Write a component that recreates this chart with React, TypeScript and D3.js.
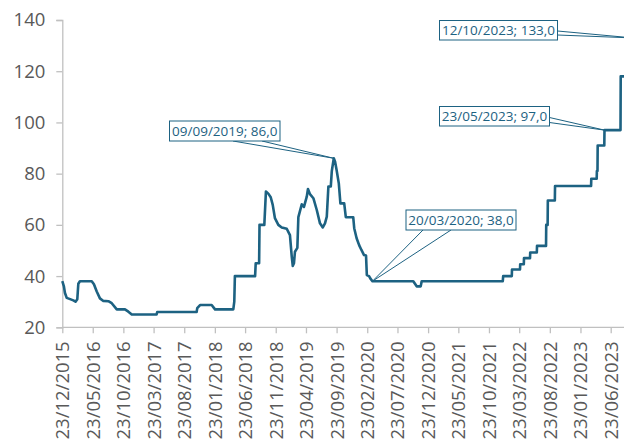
import React from 'react';
import { select, scaleLinear, scaleTime, line, axisLeft, axisBottom, timeParse, timeFormat } from 'd3';

// data
const pointDates = [
  '2015-12-23', '2015-12-31', '2016-01-05', '2016-01-14', '2016-01-31', '2016-02-16', '2016-02-27', '2016-03-07',
  '2016-03-12', '2016-03-20', '2016-05-18', '2016-05-29', '2016-06-12', '2016-06-28', '2016-07-15', '2016-08-09',
  '2016-08-26', '2016-09-20', '2016-10-31', '2016-11-17', '2016-12-04', '2017-04-07', '2017-04-10', '2017-10-24',
  '2017-10-27', '2017-11-10', '2018-01-07', '2018-01-19', '2018-01-24', '2018-04-25', '2018-04-30', '2018-05-03',
  '2018-08-12', '2018-08-15', '2018-09-01', '2018-09-03', '2018-09-27', '2018-10-05', '2018-10-17', '2018-10-29',
  '2018-11-08', '2018-11-19', '2018-12-06', '2018-12-23', '2019-01-17', '2019-02-02', '2019-02-11', '2019-02-16',
  '2019-02-22', '2019-02-27', '2019-03-11', '2019-03-16', '2019-04-02', '2019-04-13', '2019-04-27', '2019-05-03',
  '2019-05-13', '2019-05-30', '2019-06-16', '2019-07-02', '2019-07-16', '2019-07-27', '2019-08-05', '2019-08-13',
  '2019-08-25', '2019-08-30', '2019-09-09', '2019-09-15', '2019-09-23', '2019-10-04', '2019-10-12', '2019-10-31',
  '2019-11-08', '2019-12-15', '2019-12-20', '2020-01-01', '2020-01-14', '2020-01-25', '2020-02-07', '2020-02-17',
  '2020-02-21', '2020-03-03', '2020-03-10', '2020-03-20', '2020-10-10', '2020-10-27', '2020-11-16', '2020-11-21',
  '2021-12-31', '2022-01-02', '2022-02-14', '2022-02-15', '2022-03-27', '2022-03-28', '2022-04-15', '2022-04-16',
  '2022-05-16', '2022-05-17', '2022-06-19', '2022-06-20', '2022-08-04', '2022-08-05', '2022-08-12', '2022-08-13',
  '2022-09-17', '2022-09-18', '2023-03-17', '2023-03-18', '2023-04-14', '2023-04-15', '2023-04-18', '2023-04-19',
  '2023-05-22', '2023-05-23', '2023-08-11', '2023-08-12', '2023-10-11', '2023-10-12',
];
const pointValues = [
  38, 36, 33.5, 31.5, 31, 30.5, 30, 31,
  37, 38, 38, 36.8, 34, 31.3, 30.3, 30.2,
  29.4, 27, 27, 26.1, 25, 25, 26, 26,
  27.5, 28.7, 28.7, 27.5, 27, 27, 30, 40,
  40, 45, 45, 60, 60, 73, 72.2, 70.8,
  67.8, 62.6, 60, 59, 58.5, 56, 47.6, 44,
  45, 49.5, 51, 63, 68, 67, 71, 74,
  72, 70.4, 65.8, 60.6, 59, 60.6, 63.2, 75,
  75, 81, 86, 84.8, 81.4, 76.2, 68.4, 68.4,
  63, 63, 58.7, 54.8, 52, 50.2, 48.2, 48,
  40.4, 40, 39, 38, 38, 36, 36, 38,
  38, 40, 40, 42.6, 42.6, 44.6, 44.6, 47,
  47, 49.2, 49.2, 51.8, 51.8, 60, 60, 69.5,
  69.5, 75.2, 75.2, 78, 78, 81, 81, 91,
  91, 97, 97, 118, 118, 133,
];

const xTickDates = [
  '2015-12-23', '2016-05-23', '2016-10-23', '2017-03-23', '2017-08-23', '2018-01-23', '2018-06-23',
  '2018-11-23', '2019-04-23', '2019-09-23', '2020-02-23', '2020-07-23', '2020-12-23', '2021-05-23',
  '2021-10-23', '2022-03-23', '2022-08-23', '2023-01-23', '2023-06-23',
];
const yTicks = [20, 40, 60, 80, 100, 120, 140];

const noteDates = ['2019-09-09', '2020-03-20', '2023-05-23', '2023-10-12'];
const noteValues = [86, 38, 97, 133];

// box layout for each callout: box rect + two base points of the pointer
const noteLayout = [
  { x: 169.5, y: 121, w: 110.5, h: 20, b1: [233, 141], b2: [262, 141] },
  { x: 406, y: 210, w: 110, h: 20, b1: [423, 230], b2: [451, 230] },
  { x: 439.5, y: 106.5, w: 110, h: 19.5, b1: [549.5, 117.5], b2: [549.5, 122.5] },
  { x: 439.5, y: 20.5, w: 118, h: 19.5, b1: [557.5, 31], b2: [557.5, 35] },
];

const dims = {
  width: 624,
  height: 441,
  left: 62.3,
  lastTickX: 610.7,
  top: 20,
  bottom: 327.3,
};

const LINE_COLOR = '#1d6282';
const AXIS_COLOR = '#c0c0c0';
const TEXT_COLOR = '#595959';
const FONT = '"Open Sans", sans-serif';

const parse = timeParse('%Y-%m-%d');
const fmt = timeFormat('%d/%m/%Y');

interface Pt {
  date: Date;
  value: number;
}

const App: React.FC = () => {
  const svgRef = React.useRef<SVGSVGElement>(null);

  const data: Pt[] = pointDates.map((d, i) => ({ date: parse(d) as Date, value: pointValues[i] }));
  const tickDates = xTickDates.map(d => parse(d) as Date);

  const x = scaleTime()
    .domain([tickDates[0], tickDates[tickDates.length - 1]])
    .range([dims.left, dims.lastTickX]);
  const y = scaleLinear().domain([20, 140]).range([dims.bottom, dims.top]);

  React.useEffect(() => {
    const svg = select(svgRef.current);
    svg.selectAll('*').remove();

    const defs = svg.append('defs');
    defs.append('clipPath').attr('id', 'plotclip')
      .append('rect').attr('x', 0).attr('y', 0).attr('width', dims.width).attr('height', dims.height);

    // y axis
    const yAxis = axisLeft(y).tickValues(yTicks).tickSize(6).tickPadding(11).tickFormat(d => `${d}`);
    const yg = svg.append('g').attr('transform', `translate(${dims.left},0)`).call(yAxis);
    yg.select('.domain').attr('stroke', AXIS_COLOR).attr('stroke-width', 1.3);
    yg.selectAll('.tick line').attr('stroke', AXIS_COLOR).attr('stroke-width', 1.3);
    yg.selectAll('.tick text')
      .attr('fill', TEXT_COLOR)
      .style('font-family', FONT)
      .style('font-size', '18.5px');

    // x axis
    const xAxis = axisBottom(x).tickValues(tickDates).tickSize(6).tickSizeOuter(0).tickFormat(d => fmt(d as Date));
    const xg = svg.append('g').attr('transform', `translate(0,${dims.bottom})`).call(xAxis);
    xg.select('.domain').attr('stroke', AXIS_COLOR).attr('stroke-width', 1.3)
      .attr('d', `M${dims.left},0H${dims.width}`);
    xg.selectAll('.tick line').attr('stroke', AXIS_COLOR).attr('stroke-width', 1.3);
    xg.selectAll('.tick text')
      .attr('fill', TEXT_COLOR)
      .style('font-family', FONT)
      .style('font-size', '18.5px')
      .attr('text-anchor', 'end')
      .attr('dy', '0.35em')
      .attr('transform', 'translate(0,14) rotate(-90)')
      .attr('x', 0)
      .attr('y', 0);

    // series
    const pathGen = line<Pt>()
      .x(d => x(d.date))
      .y(d => y(d.value));
    svg.append('path')
      .datum(data)
      .attr('clip-path', 'url(#plotclip)')
      .attr('d', pathGen)
      .attr('fill', 'none')
      .attr('stroke', LINE_COLOR)
      .attr('stroke-width', 2.6)
      .attr('stroke-linejoin', 'round');

    // callouts
    const notes = svg.append('g').attr('clip-path', 'url(#plotclip)');
    noteDates.forEach((nd, i) => {
      const date = parse(nd) as Date;
      const px = x(date);
      const py = y(noteValues[i]);
      const lay = noteLayout[i];
      notes.append('path')
        .attr('d', `M${lay.b1[0]},${lay.b1[1]}L${px},${py}L${lay.b2[0]},${lay.b2[1]}`)
        .attr('fill', 'white')
        .attr('stroke', LINE_COLOR)
        .attr('stroke-width', 1);
      notes.append('rect')
        .attr('x', lay.x).attr('y', lay.y)
        .attr('width', lay.w).attr('height', lay.h)
        .attr('fill', 'white')
        .attr('stroke', LINE_COLOR)
        .attr('stroke-width', 1);
      notes.append('text')
        .attr('x', lay.x + lay.w / 2)
        .attr('y', lay.y + lay.h / 2)
        .attr('dy', '0.36em')
        .attr('text-anchor', 'middle')
        .attr('fill', LINE_COLOR)
        .style('font-family', FONT)
        .style('font-size', '13.5px')
        .text(`${fmt(date)}; ${noteValues[i].toFixed(1).replace('.', ',')}`);
    });
  }, []);

  return (
    <svg
      ref={svgRef}
      width={dims.width}
      height={dims.height}
      style={{ position: 'absolute', left: 0, top: 0, background: 'white' }}
    />
  );
};

export default App;
